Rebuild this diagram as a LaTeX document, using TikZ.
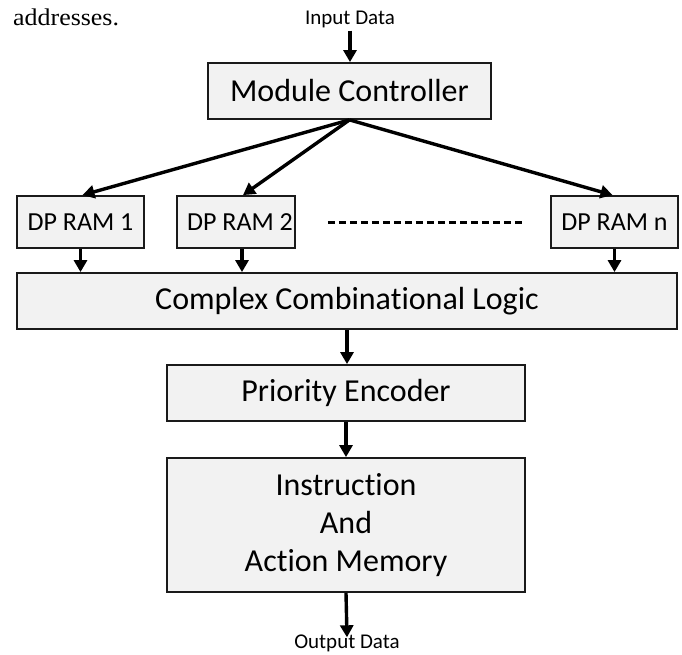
\documentclass[tikz,border=0pt]{standalone}
\usepackage{fontspec}
\setmainfont[RawFeature={-liga}]{Carlito}
\newfontfamily\timesf{Liberation Serif}
\usetikzlibrary{arrows.meta}
\definecolor{boxgray}{HTML}{F2F2F2}
\definecolor{edgec}{HTML}{1A1A1A}
\begin{document}
\begin{tikzpicture}[x=1pt,y=-1pt,
  blk/.style={draw=edgec, line width=1.8pt, fill=boxgray, inner sep=0pt, anchor=center},
  big/.style={font=\fontsize{32}{38}\selectfont},
  mid/.style={font=\fontsize{26}{30}\selectfont},
  small/.style={font=\fontsize{21}{24}\selectfont, inner sep=0pt},
  arr/.style={line width=3.4pt, draw=black, -{Triangle[length=12pt,width=13pt]}}]
\useasboundingbox (0,0) rectangle (682,655);
% stray text from the page
\node[anchor=base west, inner sep=0pt, font=\timesf\fontsize{24}{28}\selectfont] (addr) at (13,26) {\scalebox{1.08}[1]{addresses.}};
% labels
\node[small] (inp) at (350,19) {Input Data};
\node[small] (out) at (347,643) {Output Data};
% blocks
\node[blk, big, minimum width=283pt, minimum height=56pt] (mc) at (349.5,91) {Module Controller};
\node[blk, mid, minimum width=127pt, minimum height=52pt] (d1) at (80.5,222) {DP RAM 1};
\node[blk, mid, minimum width=118pt, minimum height=52pt] (d2) at (236,222) {\hspace*{8pt}DP RAM 2};
\node[blk, mid, minimum width=127pt, minimum height=52pt] (dn) at (614.5,222) {DP RAM n};
\node[blk, big, minimum width=660pt, minimum height=56pt] (ccl) at (347,301) {Complex Combinational Logic};
\node[blk, big, minimum width=358pt, minimum height=56pt] (pri) at (346,393) {Priority Encoder};
\node[blk, big, minimum width=358pt, minimum height=134pt, align=center] (iam) at (346,525) {Instruction\\And\\Action Memory};
% connectors
\draw[arr] (inp.south) ++(0,3) coordinate (i0) -- (i0 |- mc.north);
\draw[arr] (mc.south) -- ([xshift=2pt]d1.north);
\draw[arr] (mc.south) -- ([xshift=7pt]d2.north);
\draw[arr] (mc.south) -- ([xshift=-2pt]dn.north);
\draw[line width=3pt, dash pattern=on 7pt off 4pt, shorten <=32pt, shorten >=25pt] (d2.east) -- (dn.west);
\draw[arr] (d1.south) -- (d1.south |- ccl.north);
\draw[arr] ([xshift=6pt]d2.south) -- ([xshift=6pt]d2.south |- ccl.north);
\draw[arr] (dn.south) -- (dn.south |- ccl.north);
\draw[arr] (ccl.south) -- (ccl.south |- pri.north);
\draw[arr] (pri.south) -- (iam.north);
\draw[arr] (iam.south) -- ([yshift=-3pt]out.north);
\end{tikzpicture}
\end{document}
